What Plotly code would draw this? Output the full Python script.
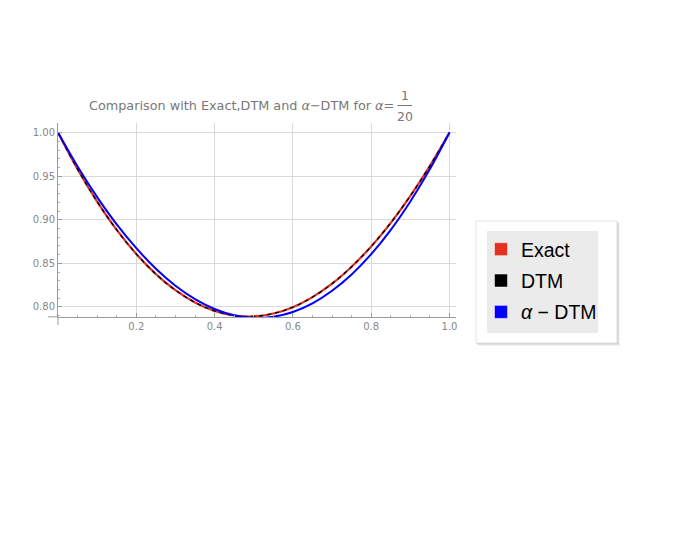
import plotly.graph_objects as go

# ---- data ----
x_vals = [0.00, 0.05, 0.10, 0.15, 0.20, 0.25, 0.30, 0.35, 0.40, 0.45, 0.50,
          0.55, 0.60, 0.65, 0.70, 0.75, 0.80, 0.85, 0.90, 0.95, 1.00]
exact = [1.0000, 0.9580, 0.9209, 0.8885, 0.8608, 0.8377, 0.8192, 0.8051, 0.7955, 0.7902, 0.7892,
         0.7925, 0.7998, 0.8113, 0.8267, 0.8462, 0.8694, 0.8965, 0.9274, 0.9619, 1.0000]
dtm = [1.0000, 0.9580, 0.9209, 0.8885, 0.8608, 0.8377, 0.8192, 0.8051, 0.7955, 0.7902, 0.7892,
       0.7925, 0.7998, 0.8113, 0.8267, 0.8462, 0.8694, 0.8965, 0.9274, 0.9619, 1.0000]
alpha_dtm = [1.0000, 0.9611, 0.9260, 0.8947, 0.8674, 0.8439, 0.8244, 0.8090, 0.7977, 0.7905, 0.7875,
             0.7888, 0.7943, 0.8042, 0.8186, 0.8373, 0.8606, 0.8885, 0.9210, 0.9581, 1.0000]
x_ticks = [0.2, 0.4, 0.6, 0.8, 1.0]
y_ticks = [0.80, 0.85, 0.90, 0.95, 1.00]
series_names = ["Exact", "DTM", "<i>α</i> − DTM"]
series_colors = ["#e3301f", "#000000", "#0000ff"]

# ---- layout geometry (page body has an 8px margin) ----
W, H = 676, 542
OFF = 8
L, R, T, B = 50, 228, 115, 233
pw = W - L - R
ph = H - T - B
x_scale = 391.5   # px per unit
y_scale = 872.0   # px per unit
y_min = 0.7885


def fx(px):
    """reference-picture pixel x -> paper coordinate"""
    return (px - OFF - L) / pw


def fy(py):
    """reference-picture pixel y -> paper coordinate"""
    return (H - B - (py - OFF)) / ph


FONT = "Liberation Sans, Arial, sans-serif"
TFONT = "DejaVu Sans, sans-serif"
fig = go.Figure()

fig.add_trace(go.Scatter(x=x_vals, y=exact, mode="lines", showlegend=False,
                         line=dict(color=series_colors[0], width=2.2, shape="spline")))
fig.add_trace(go.Scatter(x=x_vals, y=dtm, mode="lines", showlegend=False,
                         line=dict(color=series_colors[1], width=1.4, dash="4px,4px", shape="spline")))
fig.add_trace(go.Scatter(x=x_vals, y=alpha_dtm, mode="lines", showlegend=False,
                         line=dict(color=series_colors[2], width=2.0, shape="spline")))

for name, color in zip(series_names, series_colors):
    fig.add_trace(go.Scatter(x=[None], y=[None], mode="markers", name=name, legendgroup=name,
                             marker=dict(symbol="square", size=13, color=color,
                                         line=dict(width=0.5, color="#ffffff"))))

axis_common = dict(
    ticks="inside", ticklen=4, tickcolor="#9a9a9a", tickwidth=1,
    showline=True, linecolor="#9a9a9a", linewidth=1,
    showgrid=True, gridcolor="#d9d9d9", gridwidth=1, zeroline=False,
    tickfont=dict(family=TFONT, size=10, color="#888888"),
)

fig.update_xaxes(range=[0, pw / x_scale], tickvals=x_ticks,
                 ticktext=[f"{v:.1f}" for v in x_ticks],
                 minor=dict(tick0=0, dtick=0.05, ticks="inside", ticklen=2,
                            tickcolor="#b0b0b0", showgrid=False),
                 **axis_common)
fig.update_yaxes(range=[y_min, y_min + ph / y_scale], tickvals=y_ticks,
                 ticktext=[f"{v:.2f}" for v in y_ticks],
                 minor=dict(tick0=0.8, dtick=0.01, ticks="inside", ticklen=2,
                            tickcolor="#b0b0b0", showgrid=False),
                 **axis_common)

shapes = []
# axis extensions (Mathematica style axes crossing)
shapes.append(dict(type="line", xref="paper", yref="paper", x0=fx(58), x1=fx(58), y0=fy(316.8), y1=fy(325),
                   line=dict(color="#9a9a9a", width=1)))
shapes.append(dict(type="line", xref="paper", yref="paper", x0=fx(48), x1=fx(58), y0=fy(316.8), y1=fy(316.8),
                   line=dict(color="#9a9a9a", width=1)))
# legend frame with shadow
for off, op in [(3, 0.05), (2, 0.07), (1, 0.09)]:
    shapes.append(dict(type="rect", xref="paper", yref="paper", layer="above",
                       x0=fx(475 + off), x1=fx(617 + off), y0=fy(220 + off), y1=fy(343 + off),
                       fillcolor=f"rgba(0,0,0,{op})", line=dict(width=0)))
shapes.append(dict(type="rect", xref="paper", yref="paper", layer="above",
                   x0=fx(476), x1=fx(617), y0=fy(221), y1=fy(343),
                   fillcolor="#ffffff", line=dict(width=1, color="#e2e2e2")))
shapes.append(dict(type="rect", xref="paper", yref="paper", layer="above",
                   x0=fx(487), x1=fx(598), y0=fy(231), y1=fy(333),
                   fillcolor="#ebebeb", line=dict(width=0)))
# fraction bar in title
shapes.append(dict(type="line", xref="paper", yref="paper", x0=fx(397.5), x1=fx(412), y0=fy(105.5), y1=fy(105.5),
                   line=dict(color="#777777", width=1)))

annotations = [
    dict(text="Comparison with Exact,DTM and <i>α</i>−DTM for <i>α</i>=", xref="paper", yref="paper",
         x=fx(396), y=fy(105.5), xanchor="right", yanchor="middle", showarrow=False,
         font=dict(family=TFONT, size=12.8, color="#777777")),
    dict(text="1", xref="paper", yref="paper", x=fx(404.8), y=fy(95), xanchor="center", yanchor="middle",
         showarrow=False, font=dict(family=TFONT, size=12.5, color="#777777")),
    dict(text="20", xref="paper", yref="paper", x=fx(404.8), y=fy(116.5), xanchor="center", yanchor="middle",
         showarrow=False, font=dict(family=TFONT, size=12.5, color="#777777")),
]

fig.update_layout(
    width=W, height=H, autosize=False,
    margin=dict(l=L, r=R, t=T, b=B, pad=0),
    paper_bgcolor="white", plot_bgcolor="white",
    shapes=shapes, annotations=annotations,
    showlegend=True,
    legend=dict(xref="container", yref="container", x=(481 - OFF) / W, y=1 - (230 - OFF) / H,
                xanchor="left", yanchor="top", bgcolor="rgba(0,0,0,0)", borderwidth=0,
                traceorder="grouped", tracegroupgap=3,
                font=dict(family=FONT, size=19.5, color="#000000")),
)

fig.write_html("out.html")
